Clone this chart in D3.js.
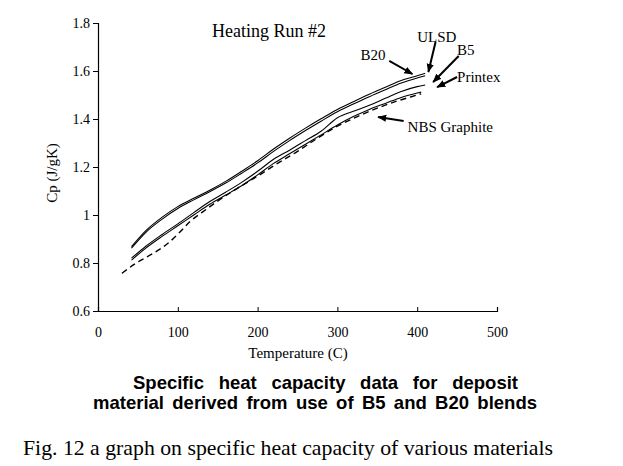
<!DOCTYPE html>
<html><head><meta charset="utf-8">
<script src="https://cdn.jsdelivr.net/npm/d3@7/dist/d3.min.js"></script>
<style>body{margin:0;background:#fff}svg{display:block}</style>
</head><body>
<script>
// ---- data ----
const xTicks = [0, 100, 200, 300, 400, 500];
const yTicks = [0.6, 0.8, 1.0, 1.2, 1.4, 1.6, 1.8];
const yTickLabels = ["0.6", "0.8", "1", "1.2", "1.4", "1.6", "1.8"];

const tempSolid = [42, 60, 80, 100, 120, 140, 160, 180, 200, 220, 240, 260, 280, 300, 320, 340, 360, 380, 400, 410];
const cpB20     = [0.868, 0.935, 0.99, 1.035, 1.07, 1.103, 1.14, 1.182, 1.226, 1.275, 1.32, 1.362, 1.402, 1.44, 1.472, 1.503, 1.532, 1.56, 1.58, 1.59];
const cpULSD    = [0.862, 0.928, 0.982, 1.027, 1.063, 1.097, 1.133, 1.174, 1.217, 1.265, 1.31, 1.352, 1.392, 1.43, 1.462, 1.493, 1.522, 1.55, 1.571, 1.58];
const cpB5      = [0.82, 0.87, 0.918, 0.963, 1.01, 1.056, 1.095, 1.136, 1.182, 1.232, 1.27, 1.31, 1.35, 1.405, 1.432, 1.457, 1.486, 1.515, 1.535, 1.542];
const tempPrintex = [42, 60, 80, 100, 120, 140, 160, 180, 200, 220, 240, 260, 280, 300, 320, 340, 360, 380, 400, 405];
const cpPrintex = [0.812, 0.862, 0.91, 0.955, 1.0, 1.045, 1.083, 1.122, 1.167, 1.215, 1.255, 1.295, 1.335, 1.375, 1.41, 1.44, 1.465, 1.49, 1.508, 1.512];
const tempNBS   = [30, 48, 70, 88, 103, 115, 130, 150, 175, 200, 225, 250, 275, 300, 325, 350, 375, 400, 405];
const cpNBS     = [0.757, 0.80, 0.842, 0.883, 0.93, 0.972, 1.01, 1.058, 1.112, 1.162, 1.215, 1.265, 1.32, 1.37, 1.41, 1.445, 1.475, 1.50, 1.505];

const labelNames = ["B20", "ULSD", "B5", "Printex", "NBS Graphite"];
const labelT     = [329, 400, 450, 450, 388];
const labelCp    = [1.646, 1.721, 1.667, 1.554, 1.346];
const arrowFromT = [365, 423, 452, 450, 383];
const arrowFromCp= [1.642, 1.721, 1.6625, 1.575, 1.392];
const arrowToT   = [394, 414, 420, 425, 351];
const arrowToCp  = [1.5875, 1.596, 1.554, 1.533, 1.408];

// ---- drawing ----
const W = 623, H = 466;
const svg = d3.select("body").append("svg").attr("width", W).attr("height", H);
const x = d3.scaleLinear().domain([0, 500]).range([98, 497]);
const y = d3.scaleLinear().domain([0.6, 1.8]).range([311, 23]);
const serif = "'Liberation Serif','Times New Roman',serif";
const sans = "'Liberation Sans',Arial,sans-serif";

svg.append("defs").append("marker")
  .attr("id", "ah").attr("viewBox", "0 0 10 10").attr("refX", 9).attr("refY", 5)
  .attr("markerWidth", 9).attr("markerHeight", 9).attr("markerUnits", "userSpaceOnUse")
  .attr("orient", "auto")
  .append("path").attr("d", "M0,1 L10,5 L0,9 Z").attr("fill", "#000");

// axes
const gx = svg.append("g").attr("transform", `translate(0,${y(0.6)})`)
  .call(d3.axisBottom(x).tickValues(xTicks).tickSize(-4).tickPadding(16).tickFormat(d3.format("d")));
const gy = svg.append("g").attr("transform", `translate(${x(0)},0)`)
  .call(d3.axisLeft(y).tickValues(yTicks).tickSize(5).tickPadding(3).tickFormat((d, i) => yTickLabels[i]));
[gx, gy].forEach(g => {
  g.select(".domain").attr("stroke", "#000").attr("stroke-width", 1.2);
  g.selectAll(".tick line").attr("stroke", "#000");
  g.selectAll("text").attr("font-family", serif).attr("font-size", 14).attr("fill", "#000");
});

// lines
const line = d3.line().x(d => x(d[0])).y(d => y(d[1])).curve(d3.curveMonotoneX);
const solidSeries = [
  [tempSolid, cpB20], [tempSolid, cpULSD], [tempSolid, cpB5], [tempPrintex, cpPrintex]
];
solidSeries.forEach(([t, c]) => {
  svg.append("path").datum(t.map((v, i) => [v, c[i]]))
    .attr("d", line).attr("fill", "none").attr("stroke", "#000").attr("stroke-width", 1.1);
});
svg.append("path").datum(tempNBS.map((v, i) => [v, cpNBS[i]]))
  .attr("d", line).attr("fill", "none").attr("stroke", "#000").attr("stroke-width", 1.4)
  .attr("stroke-dasharray", "6,4");

// annotations
svg.append("text").attr("x", x(143)).attr("y", y(1.742))
  .attr("font-family", serif).attr("font-size", 18).text("Heating Run #2");
labelNames.forEach((n, i) => {
  svg.append("text").attr("x", x(labelT[i])).attr("y", y(labelCp[i]))
    .attr("font-family", serif).attr("font-size", 15).text(n);
  svg.append("line")
    .attr("x1", x(arrowFromT[i])).attr("y1", y(arrowFromCp[i]))
    .attr("x2", x(arrowToT[i])).attr("y2", y(arrowToCp[i]))
    .attr("stroke", "#000").attr("stroke-width", 2).attr("marker-end", "url(#ah)");
});

// axis titles
svg.append("text").attr("x", 298).attr("y", 358).attr("text-anchor", "middle")
  .attr("font-family", serif).attr("font-size", 15).text("Temperature (C)");
svg.append("text").attr("transform", "translate(57,173) rotate(-90)").attr("text-anchor", "middle")
  .attr("font-family", serif).attr("font-size", 15).text("Cp (J/gK)");

// captions (widen word gaps to reach target width)
function fitWords(sel, target) {
  const n = sel.node();
  const natural = n.getComputedTextLength();
  const spaces = (n.textContent.match(/ /g) || []).length;
  if (spaces && target > natural) sel.attr("word-spacing", (target - natural) / spaces);
  else if (target < natural) sel.attr("textLength", target).attr("lengthAdjust", "spacingAndGlyphs");
  return sel;
}
fitWords(svg.append("text").attr("x", 133).attr("y", 389)
  .attr("font-family", sans).attr("font-weight", "bold").attr("font-size", 18.5)
  .text("Specific heat capacity data for deposit"), 385);
fitWords(svg.append("text").attr("x", 93).attr("y", 409)
  .attr("font-family", sans).attr("font-weight", "bold").attr("font-size", 18.5)
  .text("material derived from use of B5 and B20 blends"), 444);
svg.append("text").attr("x", 23).attr("y", 455).attr("textLength", 530).attr("lengthAdjust", "spacingAndGlyphs")
  .attr("font-family", serif).attr("font-size", 22)
  .text("Fig. 12 a graph on specific heat capacity of various materials");
</script>
</body></html>
